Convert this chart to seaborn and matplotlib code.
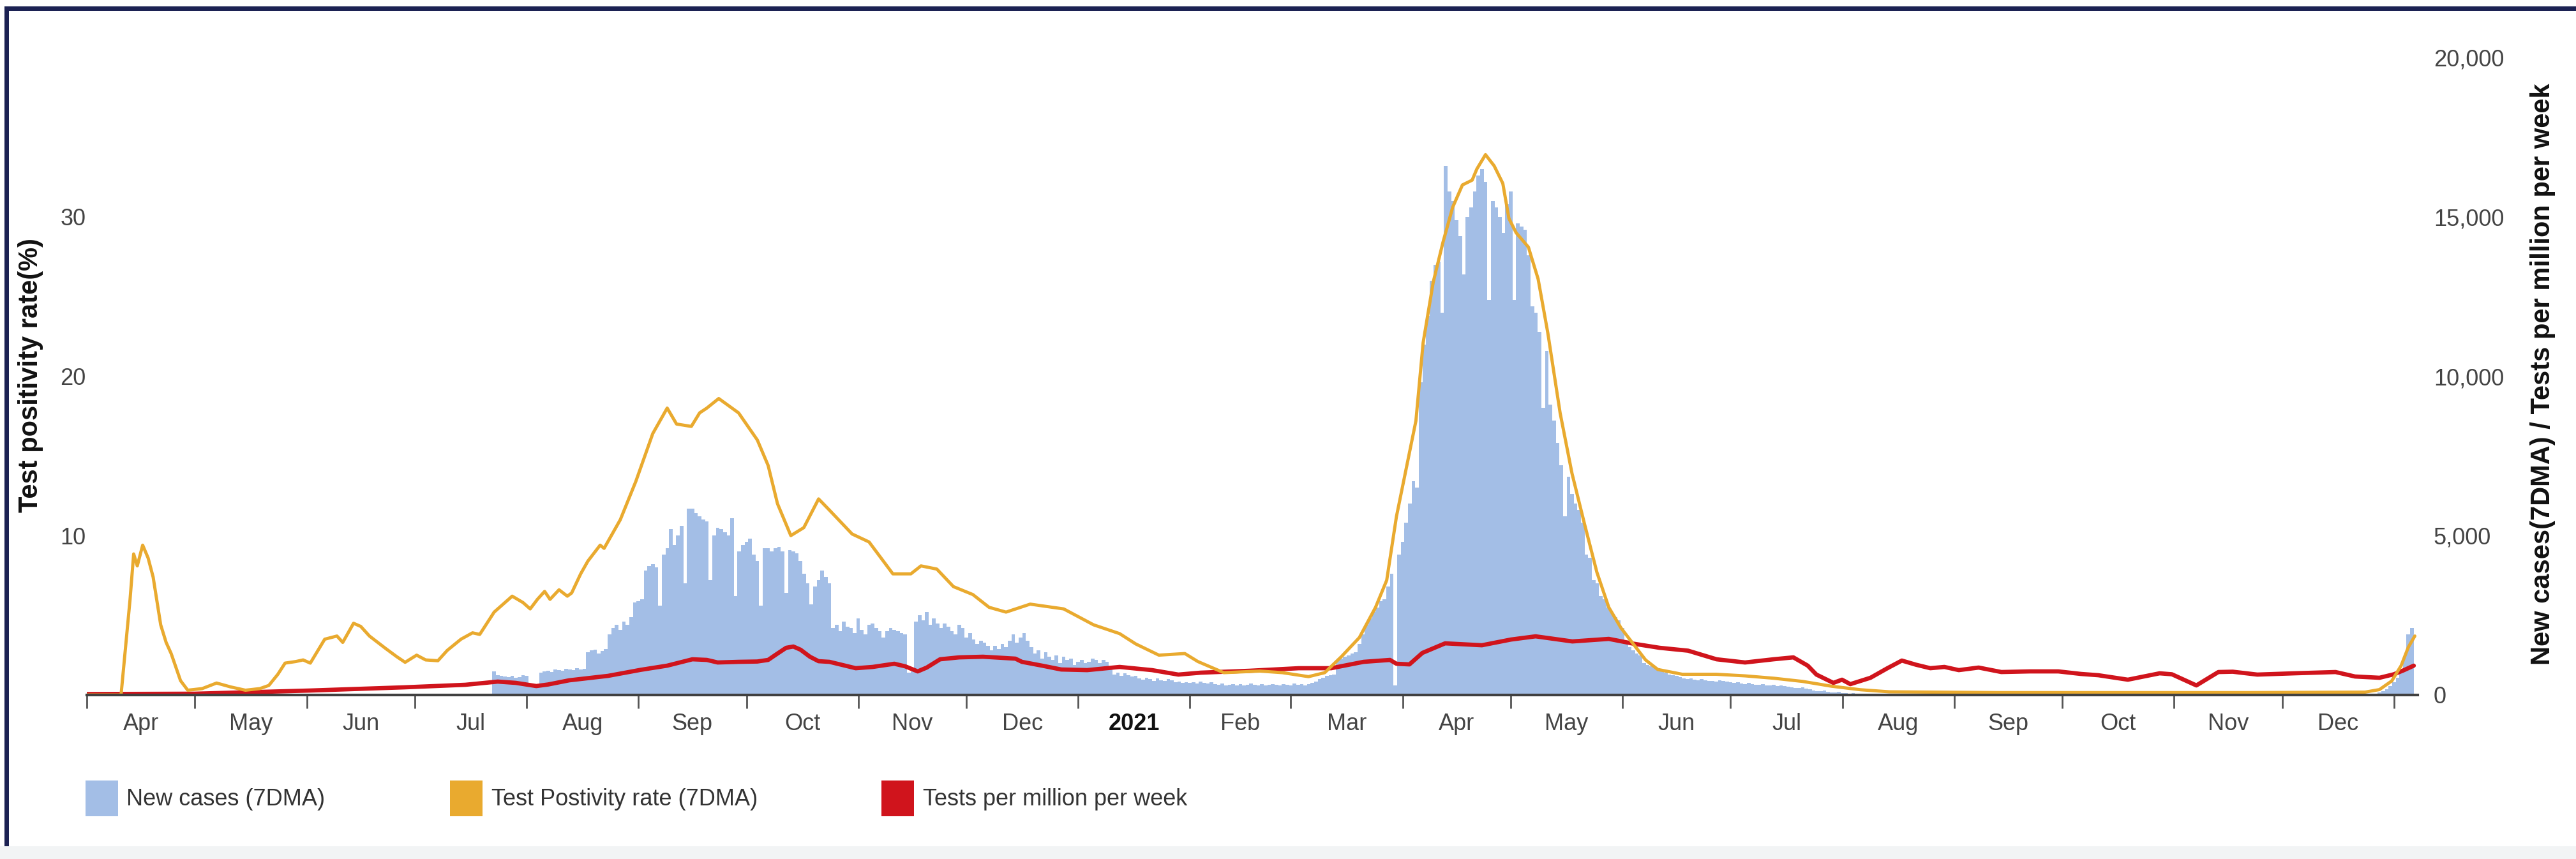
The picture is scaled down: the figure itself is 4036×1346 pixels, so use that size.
import numpy as np
import pandas as pd
import matplotlib
matplotlib.use("Agg")
import matplotlib.pyplot as plt
import matplotlib.dates as mdates
from matplotlib.patches import Rectangle
from matplotlib.ticker import FixedLocator, FixedFormatter, NullFormatter
import seaborn as sns

# ---------------- data ----------------
START = "2020-04-01"   # day 0 of the day-offset arrays below

# Test positivity rate (7DMA), % -- left axis
tpr_day = [0, 9.5, 12, 13, 14, 15.5, 17, 18.4, 20.5, 22,
           23.4, 26, 28, 32, 36, 40, 44, 48, 50.5, 53,
           55, 58, 60, 62, 66, 69.4, 71, 74, 76, 78.4,
           83, 86, 88.3, 91.5, 94, 97.4, 100, 103.8, 107, 109,
           113, 118, 121, 123, 125, 127, 128.5, 131, 133.3, 134.5,
           137, 139, 142.4, 143.5, 148, 152.3, 157, 161, 163.6, 167.7,
           170, 172, 175.3, 180.8, 186, 189, 191.6, 195.3, 198.9, 203,
           206, 212.3, 217, 223.6, 228.6, 231.4, 235.8, 240.4, 245.8, 250.3,
           255, 261.7, 271, 279.3, 286.5, 291, 297.4, 304.6, 308.2, 315.4,
           325.4, 331.7, 338.9, 343.4, 348, 353, 357.5, 360.6, 363.3, 366,
           368.7, 370.7, 373.5, 376.2, 378.9, 381.6, 384.3, 385.6, 388, 390.4,
           392.8, 394.5, 396.5, 399.9, 402.6, 405.3, 408.7, 412, 415.5, 418.9,
           422.2, 425.6, 429, 432.4, 435.8, 442.6, 452, 460, 468, 476,
           484, 492, 500, 530, 600, 632, 636, 639.4, 642, 644,
           645.8]
tpr_val = [0, 0, 6.0, 8.85, 8.1, 9.4, 8.6, 7.4, 4.4, 3.3,
           2.6, 0.9, 0.3, 0.4, 0.75, 0.5, 0.3, 0.4, 0.6, 1.3,
           2.0, 2.1, 2.2, 2.0, 3.5, 3.7, 3.3, 4.5, 4.3, 3.7,
           2.9, 2.4, 2.05, 2.5, 2.2, 2.15, 2.8, 3.5, 3.9, 3.8,
           5.2, 6.2, 5.8, 5.4, 6.0, 6.5, 6.0, 6.6, 6.2, 6.4,
           7.6, 8.4, 9.4, 9.2, 11.0, 13.4, 16.4, 18.0, 17.0, 16.85,
           17.7, 18.0, 18.6, 17.7, 16.0, 14.4, 12.0, 10.0, 10.5, 12.3,
           11.6, 10.1, 9.6, 7.6, 7.6, 8.1, 7.9, 6.8, 6.3, 5.5,
           5.2, 5.7, 5.4, 4.4, 3.85, 3.2, 2.5, 2.6, 2.1, 1.4,
           1.5, 1.4, 1.15, 1.4, 2.4, 3.6, 5.5, 7.2, 11.2, 14.2,
           17.2, 22.1, 25.9, 28.4, 30.6, 32.0, 32.3, 33.0, 33.9, 33.2,
           32.1, 29.9, 29.0, 28.1, 26.1, 22.7, 17.7, 13.9, 10.7, 7.7,
           5.5, 4.2, 3.2, 2.2, 1.6, 1.3, 1.3, 1.2, 1.05, 0.85,
           0.55, 0.33, 0.2, 0.15, 0.15, 0.18, 0.34, 0.88, 1.84, 3.0,
           3.7]

# Tests per million per week -- right axis
tests_day = [0, 30, 62, 88, 105, 114, 119, 124.7, 128, 133.8,
             144.6, 153.7, 161, 168, 172, 175, 180.8, 186, 189, 191.6,
             194, 196, 198, 200.6, 203, 206, 213.3, 218, 224, 227,
             230.5, 233, 236.7, 242, 248.6, 257.6, 259.4, 265, 270.3, 277.5,
             286.5, 295.5, 302.8, 309, 322.6, 336.2, 345.2, 354.2, 361.5, 363.3,
             366.9, 370.5, 376.8, 387, 395.1, 401.9, 412.1, 422.2, 429, 436.3,
             444.2, 452.1, 460, 467.9, 473.4, 477.4, 479.8, 484.5, 486.9, 489.2,
             494.8, 499.5, 503.5, 507.4, 511.4, 515.3, 519.3, 524.8, 531.1, 539,
             546.9, 553.2, 558, 566.2, 575, 578.4, 585.2, 591.3, 595.3, 602.1,
             612.3, 623.8, 629.2, 636, 640, 642.8, 645.5]
tests_val = [30, 40, 140, 240, 320, 420, 380, 280, 330, 460,
             600, 790, 920, 1120, 1100, 1020, 1040, 1050, 1100, 1300,
             1480, 1520, 1420, 1200, 1060, 1040, 840, 880, 980, 900,
             740, 860, 1120, 1180, 1200, 1140, 1040, 920, 800, 780,
             880, 780, 640, 700, 760, 840, 840, 1040, 1100, 980,
             960, 1320, 1620, 1560, 1740, 1840, 1680, 1760, 1610, 1480,
             1390, 1120, 1020, 1120, 1180, 920, 640, 380, 480, 340,
             540, 840, 1080, 950, 840, 880, 780, 860, 720, 740,
             740, 660, 620, 480, 680, 650, 300, 720, 730, 640,
             680, 720, 580, 540, 650, 780, 920]

# New cases (7DMA), one value per day -- right axis
cases_wave_start = "2020-07-23"
cases_wave = [750, 620, 600, 580, 560, 600, 540, 560, 620, 600,
              300, 280, 320,
              700, 740, 760, 720, 800, 780, 760, 820, 800, 780, 840, 800, 820,
              1350, 1400, 1420, 1300, 1380, 1450,
              1900, 2100, 2200, 2050, 2300, 2200, 2450,
              2900, 2950, 3000,
              3900, 4050, 4100, 4000,
              2800,
              4400, 4600, 5200, 4700, 5000, 5300,
              3500,
              5850, 5850, 5700, 5600, 5500, 5450,
              3600,
              5000, 5250, 5200, 5100, 5000, 5550,
              3100,
              4500, 4700, 4800, 4900, 4400, 4200,
              2800,
              4600, 4600, 4500, 4600, 4650, 4500,
              3200,
              4550, 4500, 4450, 4200, 3800, 3500,
              2850,
              3400, 3600, 3900, 3700, 3500,
              2100, 2200, 2000, 2300, 2150, 2100, 1950, 2400, 2050, 1900,
              2200, 2250, 2100, 2000, 1800, 2000, 2100, 2050, 2000, 1950, 1900,
              700, 750,
              2300, 2500, 2350, 2600, 2200, 2400, 2250,
              2100, 2250, 2150, 2000, 1900, 2200, 2100,
              1800, 1950, 1750, 1600, 1700, 1650, 1550,
              1400, 1550, 1450, 1600, 1500, 1700, 1900, 1650, 1800, 1950, 1700, 1500,
              1300, 1400, 1150, 1350, 1200, 1100,
              1250, 1000, 1200, 1100, 1150, 950, 1050, 1100, 1000,
              1050, 1150, 1100, 1000, 1100, 1050, 900,
              650, 700, 600, 680, 620, 580, 600,
              520, 480, 550, 500, 450, 520, 470, 440, 500, 460,
              400, 420, 380, 410, 390, 400, 370, 420, 380, 360, 400,
              340, 320, 360, 300, 330, 350, 310, 340, 300, 320,
              360, 330, 310, 340, 300, 320, 350, 330, 300, 340,
              320, 310, 360, 330, 340, 300, 350, 380, 420,
              500, 550, 600, 620, 650,
              1100, 1150, 1200, 1250, 1300, 1350,
              1600, 1900, 2200,
              2400, 2600, 2750, 2950,
              3000, 3400, 3800,
              300,
              4400, 4800,
              5400, 6000, 6700,
              6500,
              9800, 11000,
              11900, 13000,
              13500, 13600,
              12000,
              16600,
              15800, 15500,
              14900, 14400,
              13200,
              15000, 15300,
              15800, 16300, 16500,
              16100,
              12400,
              15500, 15300, 15000, 14500,
              15400, 15800,
              12400,
              14800, 14700, 14600,
              13800,
              12200, 12000,
              11400,
              9000,
              10800,
              9100, 8600,
              7900, 7200,
              5600,
              6850,
              6300, 6000,
              5800, 5400,
              4400, 4300,
              3600, 3500,
              3100, 3000, 2750,
              2600, 2450, 2350,
              2100,
              1600, 1500, 1400, 1300, 1240,
              1000, 950, 900, 880, 850,
              740, 700, 650, 620, 600, 560, 520,
              500, 520, 480, 460, 500, 470, 440, 450, 430, 460, 440, 420, 400,
              380, 400, 360, 340, 380, 350, 330, 320, 350, 310, 300, 320, 290, 300, 280, 270,
              250, 230, 220, 240, 200, 190,
              150, 130, 120, 140, 100, 90, 80, 100, 70, 60, 50, 60, 40, 50,
              40, 30, 40, 30, 30, 20, 30, 20, 20, 30, 20, 20, 10, 20]
cases_end_start = "2021-12-28"
cases_end = [80, 120, 180, 280, 400, 550, 750, 1200, 1900, 2100]

month_labels = ["Apr", "May", "Jun", "Jul", "Aug", "Sep", "Oct", "Nov", "Dec",
                "2021", "Feb", "Mar", "Apr", "May", "Jun", "Jul", "Aug", "Sep",
                "Oct", "Nov", "Dec"]
left_ticks = [10, 20, 30]
right_ticks = [0, 5000, 10000, 15000, 20000]
legend_labels = ["New cases (7DMA)", "Test Postivity rate (7DMA)", "Tests per million per week"]
left_title = "Test positivity rate(%)"
right_title = "New cases(7DMA) / Tests per million per week"

# ---------------- style ----------------
BLUE = "#a3bee6"
ORANGE = "#e9aa2f"
RED = "#d0141c"
NAVY = "#1c2253"
TICK_C = "#444444"

sns.set_theme(style="white")
plt.rcParams["font.family"] = ["Liberation Sans", "DejaVu Sans"]

W, H = 4036, 1346
fig = plt.figure(figsize=(W / 100, H / 100), dpi=100)
fig.patch.set_facecolor("white")


def fx(px):
    return px / W


def fy(py):
    return 1 - py / H


start = pd.Timestamp(START)


def day_num(days):
    d = start + pd.to_timedelta(np.asarray(days, dtype=float), unit="D")
    return mdates.date2num(d.to_pydatetime())


ax = fig.add_axes([fx(136), fy(1089), fx(3788) - fx(136), fy(90) - fy(1089)])
ax2 = ax.twinx()

# bars: new cases, one per day
wave_dates = pd.date_range(cases_wave_start, periods=len(cases_wave), freq="D")
end_dates = pd.date_range(cases_end_start, periods=len(cases_end), freq="D")
bars = pd.DataFrame({
    "x": np.concatenate([mdates.date2num(wave_dates.to_pydatetime()),
                         mdates.date2num(end_dates.to_pydatetime())]),
    "w": np.array(cases_wave + cases_end, dtype=float),
})
edges = np.arange(bars["x"].min() - 0.5, bars["x"].max() + 1.5, 1.0).tolist()
sns.histplot(data=bars, x="x", weights="w", bins=edges, ax=ax2, color=BLUE,
             alpha=1, linewidth=0, element="bars", legend=False)

# tests per million per week
tests = pd.DataFrame({"x": day_num(tests_day), "y": tests_val})
sns.lineplot(data=tests, x="x", y="y", ax=ax2, color=RED, linewidth=4.8,
             estimator=None, sort=False, legend=False)

# positivity rate on the left axis (drawn on top)
tpr = pd.DataFrame({"x": day_num(tpr_day), "y": tpr_val})
sns.lineplot(data=tpr, x="x", y="y", ax=ax, color=ORANGE, linewidth=3.6,
             estimator=None, sort=False, legend=False)

ax.set_zorder(ax2.get_zorder() + 1)
ax.patch.set_visible(False)

# axes limits
ax.set_xlim(day_num([0])[0], day_num([646.6])[0])
ax.set_ylim(0, 40)
ax2.set_ylim(0, 20000)

# y ticks
ax.set_yticks(left_ticks)
ax.set_yticklabels([str(t) for t in left_ticks])
ax2.set_yticks(right_ticks)
ax2.set_yticklabels([f"{t:,}" for t in right_ticks])
ax.tick_params(axis="y", length=0, pad=1, labelsize=26, labelcolor=TICK_C)
ax2.tick_params(axis="y", length=0, pad=18, labelsize=26, labelcolor=TICK_C)
ax.set_ylabel("")
ax2.set_ylabel("")
ax.set_xlabel("")
ax2.set_xlabel("")
ax.grid(False)
ax2.grid(False)

# x ticks: month starts (marks) + mid-month labels
month_starts = pd.date_range("2020-04-01", "2022-01-01", freq="MS")
ms_num = mdates.date2num(month_starts.to_pydatetime())
mid_num = (ms_num[:-1] + ms_num[1:]) / 2
ax.xaxis.set_major_locator(FixedLocator(ms_num))
ax.xaxis.set_major_formatter(NullFormatter())
ax.xaxis.set_minor_locator(FixedLocator(mid_num[:len(month_labels)]))
ax.xaxis.set_minor_formatter(FixedFormatter(month_labels))
ax.tick_params(axis="x", which="major", length=15, width=2, color="#555555",
               direction="out", bottom=True)
ax.tick_params(axis="x", which="minor", length=0, pad=20, labelsize=26,
               labelcolor=TICK_C, bottom=True)
for lab in ax.get_xticklabels(minor=True):
    if lab.get_text() == "2021":
        lab.set_fontweight("bold")
        lab.set_color("#111111")

for s in ["left", "right", "top"]:
    ax.spines[s].set_visible(False)
for s in ["left", "right", "top", "bottom"]:
    ax2.spines[s].set_visible(False)
ax.spines["bottom"].set_color("#404040")
ax.spines["bottom"].set_linewidth(3)

# axis titles
fig.text(fx(48), fy(588), left_title, rotation=90, ha="center", va="center",
         fontsize=30, fontweight="bold", color="#111111")
fig.text(fx(3984), fy(586), right_title, rotation=90, ha="center", va="center",
         fontsize=30, fontweight="bold", color="#111111")

# legend
leg_items = [(134, 198, BLUE), (705, 770, ORANGE), (1381, 1446, RED)]
for (sx, tx, col), lab in zip(leg_items, legend_labels):
    fig.add_artist(Rectangle((fx(sx), fy(1279)), fx(51), (1279 - 1223) / H,
                             transform=fig.transFigure, facecolor=col,
                             edgecolor="none"))
    fig.text(fx(tx), fy(1252), lab, ha="left", va="center", fontsize=26,
             color="#333333")

# frame: navy top and left bands, light strip at bottom
fig.add_artist(Rectangle((fx(7), fy(17)), 1 - fx(7), 7 / H,
                         transform=fig.transFigure, facecolor=NAVY, edgecolor="none"))
fig.add_artist(Rectangle((fx(7), fy(1326)), 7 / W, (1326 - 10) / H,
                         transform=fig.transFigure, facecolor=NAVY, edgecolor="none"))
fig.add_artist(Rectangle((0, 0), 1, 20 / H, transform=fig.transFigure,
                         facecolor="#f2f4f5", edgecolor="none"))

fig.savefig("out.png", dpi=100)
